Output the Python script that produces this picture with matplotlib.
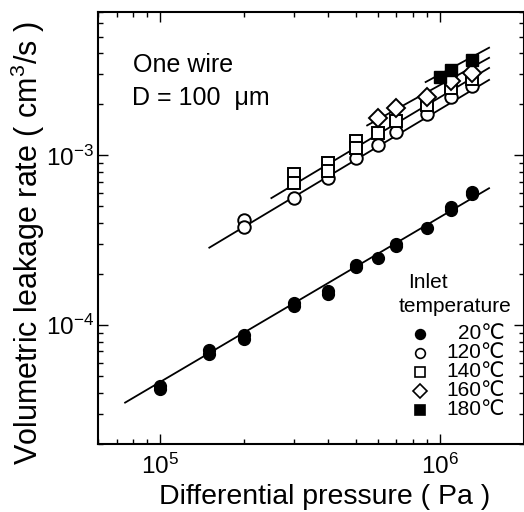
import matplotlib
matplotlib.use("Agg")
import matplotlib.pyplot as plt
from matplotlib.ticker import LogLocator, NullFormatter

plt.rcParams['font.family'] = ['Liberation Sans', 'DejaVu Sans']
plt.rcParams['mathtext.fontset'] = 'custom'
plt.rcParams['mathtext.rm'] = 'Liberation Sans'
plt.rcParams['mathtext.it'] = 'Liberation Sans:italic'
plt.rcParams['mathtext.bf'] = 'Liberation Sans:bold'

# ---- data ----
p20 = [1e5, 1e5, 1.5e5, 1.5e5, 2e5, 2e5, 3e5, 3e5, 4e5, 4e5, 5e5, 5e5, 6e5, 7e5, 7e5, 9e5, 1.1e6, 1.1e6, 1.3e6, 1.3e6]
q20 = [4.4e-5, 4.2e-5, 7.1e-5, 6.8e-5, 8.7e-5, 8.3e-5, 1.35e-4, 1.3e-4, 1.59e-4, 1.53e-4, 2.26e-4, 2.2e-4, 2.5e-4,
       3.02e-4, 2.93e-4, 3.75e-4, 4.95e-4, 4.75e-4, 6.1e-4, 5.9e-4]

p120 = [2e5, 2e5, 3e5, 4e5, 5e5, 6e5, 7e5, 9e5, 1.1e6, 1.3e6]
q120 = [4.15e-4, 3.8e-4, 5.6e-4, 7.4e-4, 9.6e-4, 1.15e-3, 1.37e-3, 1.75e-3, 2.2e-3, 2.55e-3]

p140 = [3e5, 3e5, 4e5, 4e5, 5e5, 5e5, 6e5, 7e5, 9e5, 1.1e6, 1.3e6]
q140 = [7.8e-4, 6.9e-4, 9.0e-4, 8.1e-4, 1.22e-3, 1.1e-3, 1.35e-3, 1.6e-3, 1.98e-3, 2.5e-3, 2.8e-3]

p160 = [6e5, 7e5, 9e5, 1.1e6, 1.3e6]
q160 = [1.65e-3, 1.9e-3, 2.2e-3, 2.75e-3, 3.05e-3]

p180 = [1.0e6, 1.1e6, 1.3e6]
q180 = [2.9e-3, 3.2e-3, 3.65e-3]

# fitted lines (end points)
fit20_p, fit20_q = [7.5e4, 1.5e6], [3.5e-5, 6.4e-4]
fit120_p, fit120_q = [1.5e5, 1.5e6], [2.86e-4, 2.78e-3]
fit140_p, fit140_q = [2.5e5, 1.5e6], [5.6e-4, 3.27e-3]
fit160_p, fit160_q = [5.5e5, 1.5e6], [1.5e-3, 3.75e-3]
fit180_p, fit180_q = [8.9e5, 1.5e6], [2.7e-3, 4.3e-3]

legend_labels = ['20\u2103', '120\u2103', '140\u2103', '160\u2103', '180\u2103']

# ---- figure ----
fig = plt.figure(figsize=(5.24, 5.12), dpi=100)
ax = fig.add_axes([0.187, 0.133, 0.813, 0.844])
ax.set_xscale('log')
ax.set_yscale('log')
ax.set_xlim(6e4, 2e6)
ax.set_ylim(2e-5, 7e-3)

lw_fit = 1.3
for fp, fq in [(fit20_p, fit20_q), (fit120_p, fit120_q), (fit140_p, fit140_q),
               (fit160_p, fit160_q), (fit180_p, fit180_q)]:
    ax.plot(fp, fq, color='black', lw=lw_fit, zorder=2)

mew = 1.4
ms = 9
ax.plot(p20, q20, 'o', ms=8.5, color='black', zorder=3)
ax.plot(p120, q120, 'o', ms=ms, mfc='white', mec='black', mew=mew, zorder=3)
ax.plot(p140, q140, 's', ms=ms, mfc='white', mec='black', mew=mew, zorder=3)
ax.plot(p160, q160, 'D', ms=ms, mfc='white', mec='black', mew=mew, zorder=3)
ax.plot(p180, q180, 's', ms=ms, color='black', zorder=4)

# axes styling
for s in ax.spines.values():
    s.set_linewidth(1.5)
ax.tick_params(which='both', direction='in', top=True, right=True, width=1.0, colors='black')
ax.tick_params(which='major', length=7, labelsize=17.5, pad=7)
ax.tick_params(which='minor', length=3.5)
ax.tick_params(axis='y', which='major', pad=3)
ax.xaxis.set_minor_locator(LogLocator(base=10, subs=range(2, 10)))
ax.yaxis.set_minor_locator(LogLocator(base=10, subs=range(2, 10)))
ax.xaxis.set_minor_formatter(NullFormatter())
ax.yaxis.set_minor_formatter(NullFormatter())

ax.set_xlabel('Differential pressure ( Pa )', fontsize=20.5, va='center')
ax.set_ylabel('Volumetric leakage rate ( cm$^3$/s )', fontsize=22, va='center')
ax.xaxis.set_label_coords(0.533, -0.123)
ax.yaxis.set_label_coords(-0.164, 0.465)

ax.text(0.082, 0.877, 'One wire', transform=ax.transAxes, fontsize=18, va='center', ha='left')
ax.text(0.08, 0.801, 'D = 100  \u03bcm', transform=ax.transAxes, fontsize=18, va='center', ha='left')

# legend (drawn manually)
ax.text(0.775, 0.373, 'Inlet', transform=ax.transAxes, fontsize=15, ha='center', va='center')
ax.text(0.838, 0.317, 'temperature', transform=ax.transAxes, fontsize=15, ha='center', va='center')
leg_y = [0.255, 0.211, 0.167, 0.123, 0.079]
leg_style = [dict(marker='o', mfc='black', mec='black'),
             dict(marker='o', mfc='white', mec='black'),
             dict(marker='s', mfc='white', mec='black'),
             dict(marker='D', mfc='white', mec='black'),
             dict(marker='s', mfc='black', mec='black')]
for yy, lab, st in zip(leg_y, legend_labels, leg_style):
    ax.plot([0.756], [yy], transform=ax.transAxes, ms=7, mew=1.2, ls='none', clip_on=False, **st)
    ax.text(0.955, yy, lab, transform=ax.transAxes, fontsize=15, ha='right', va='center')

fig.savefig('out.png', dpi=100)
